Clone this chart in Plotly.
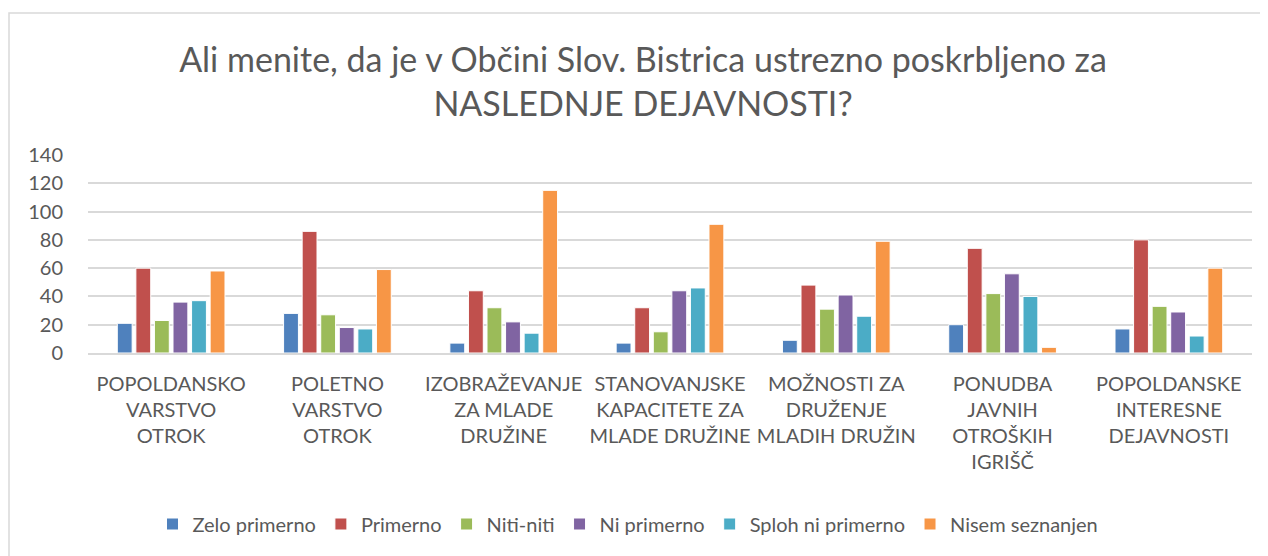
import plotly.graph_objects as go

categories = [
    "POPOLDANSKO<br>VARSTVO<br>OTROK",
    "POLETNO<br>VARSTVO<br>OTROK",
    "IZOBRAŽEVANJE<br>ZA MLADE<br>DRUŽINE",
    "STANOVANJSKE<br>KAPACITETE ZA<br>MLADE DRUŽINE",
    "MOŽNOSTI ZA<br>DRUŽENJE<br>MLADIH DRUŽIN",
    "PONUDBA<br>JAVNIH<br>OTROŠKIH<br>IGRIŠČ",
    "POPOLDANSKE<br>INTERESNE<br>DEJAVNOSTI",
]
series_names = ["Zelo primerno", "Primerno", "Niti-niti", "Ni primerno",
                "Sploh ni primerno", "Nisem seznanjen"]
zelo_primerno = [21, 28, 7, 7, 9, 20, 17]
primerno = [60, 86, 44, 32, 48, 74, 80]
niti_niti = [23, 27, 32, 15, 31, 42, 33]
ni_primerno = [36, 18, 22, 44, 41, 56, 29]
sploh_ni_primerno = [37, 17, 14, 46, 26, 40, 12]
nisem_seznanjen = [58, 59, 115, 91, 79, 4, 60]
series_values = [zelo_primerno, primerno, niti_niti, ni_primerno,
                 sploh_ni_primerno, nisem_seznanjen]
colors = ["#4F81BD", "#C0504D", "#9BBB59", "#8064A2", "#4BACC6", "#F79646"]
y_ticks = [0, 20, 40, 60, 80, 100, 120, 140]

FONT = "Lato"
TXT = "#595959"

W, H = 1260, 548
L, R, T, B = 80, 16, 147, 203
PW, PH = W - L - R, H - T - B

fig = go.Figure()
for name, vals, col in zip(series_names, series_values, colors):
    fig.add_trace(go.Bar(
        x=categories, y=vals, name=name,
        marker=dict(color=col, line=dict(color="white", width=1)),
    ))

fig.update_layout(
    width=W, height=H, autosize=False,
    margin=dict(l=L, r=R, t=T, b=B),
    paper_bgcolor="white", plot_bgcolor="white",
    barmode="group", bargap=0.33, bargroupgap=0.2,
    font=dict(family=FONT, color=TXT, size=20),
    title=dict(
        text="Ali menite, da je v Občini Slov. Bistrica ustrezno poskrbljeno za<br>NASLEDNJE DEJAVNOSTI?",
        x=635 / W, xanchor="center", xref="container",
        y=1 - 64 / H, yanchor="middle", yref="container",
        font=dict(family=FONT, size=34, color=TXT),
    ),
    legend=dict(
        orientation="h", x=(620 - L) / PW, xanchor="center",
        y=(H - 516 - B) / PH, yanchor="middle",
        font=dict(family=FONT, size=20, color=TXT),
        itemwidth=30, traceorder="normal",
    ),
    shapes=[dict(type="rect", xref="paper", yref="paper",
                 x0=(1 - L) / PW, x1=(W + 20 - L) / PW,
                 y0=-(B + 20) / PH, y1=1 + (T - 5) / PH,
                 line=dict(color="#D9D9D9", width=1.5), fillcolor="rgba(0,0,0,0)",
                 layer="below")],
)
fig.update_yaxes(
    range=[0, 140], tickvals=y_ticks, showgrid=True, gridcolor="#D9D9D9",
    gridwidth=1.5, zeroline=False, showline=False, ticks="",
    tickfont=dict(family=FONT, size=20, color=TXT), ticklabelstandoff=24,
)
fig.update_xaxes(
    showline=True, linecolor="#D9D9D9", linewidth=1.5, ticks="",
    tickfont=dict(family=FONT, size=20, color=TXT), tickangle=0,
    ticklabelstandoff=12,
)
fig.write_html("out.html")
